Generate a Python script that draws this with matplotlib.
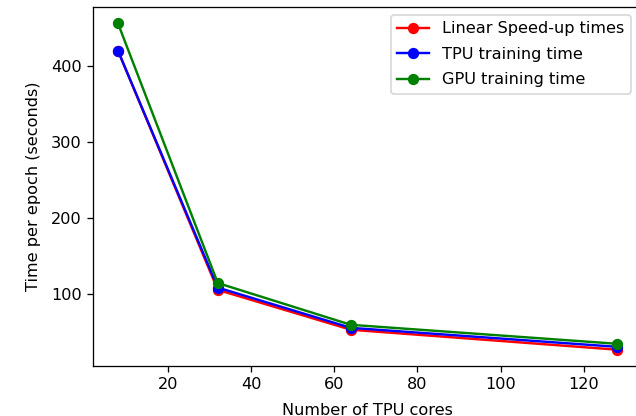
import matplotlib
matplotlib.use("Agg")
import matplotlib.pyplot as plt

cores = [8, 32, 64, 128]
linear_times = [420, 105, 52.5, 26.25]
tpu_times = [420, 108, 55, 30]
gpu_times = [456, 114, 59, 34]


def main():
    # reference looks like a notebook export, so render at a larger scale
    fig = plt.figure(figsize=(636 / 116, 416 / 116), dpi=116)
    ax = fig.add_axes([93 / 636, 1 - 366 / 416, 549 / 636, 359 / 416])
    ax.plot(cores, linear_times, color="red", marker="o", label="Linear Speed-up times")
    ax.plot(cores, tpu_times, color="blue", marker="o", label="TPU training time")
    ax.plot(cores, gpu_times, color="green", marker="o", label="GPU training time")
    ax.set_xlabel("Number of TPU cores", labelpad=6.5)
    ax.set_ylabel("Time per epoch (seconds)", labelpad=6)
    # the right side of the axes is cropped off in the reference
    ax.spines["right"].set_visible(False)
    ax.legend(loc="upper right", bbox_to_anchor=(546 / 549, 1), labelspacing=0.65)
    fig.savefig("out.png", dpi=116)


if __name__ == "__main__":
    main()
